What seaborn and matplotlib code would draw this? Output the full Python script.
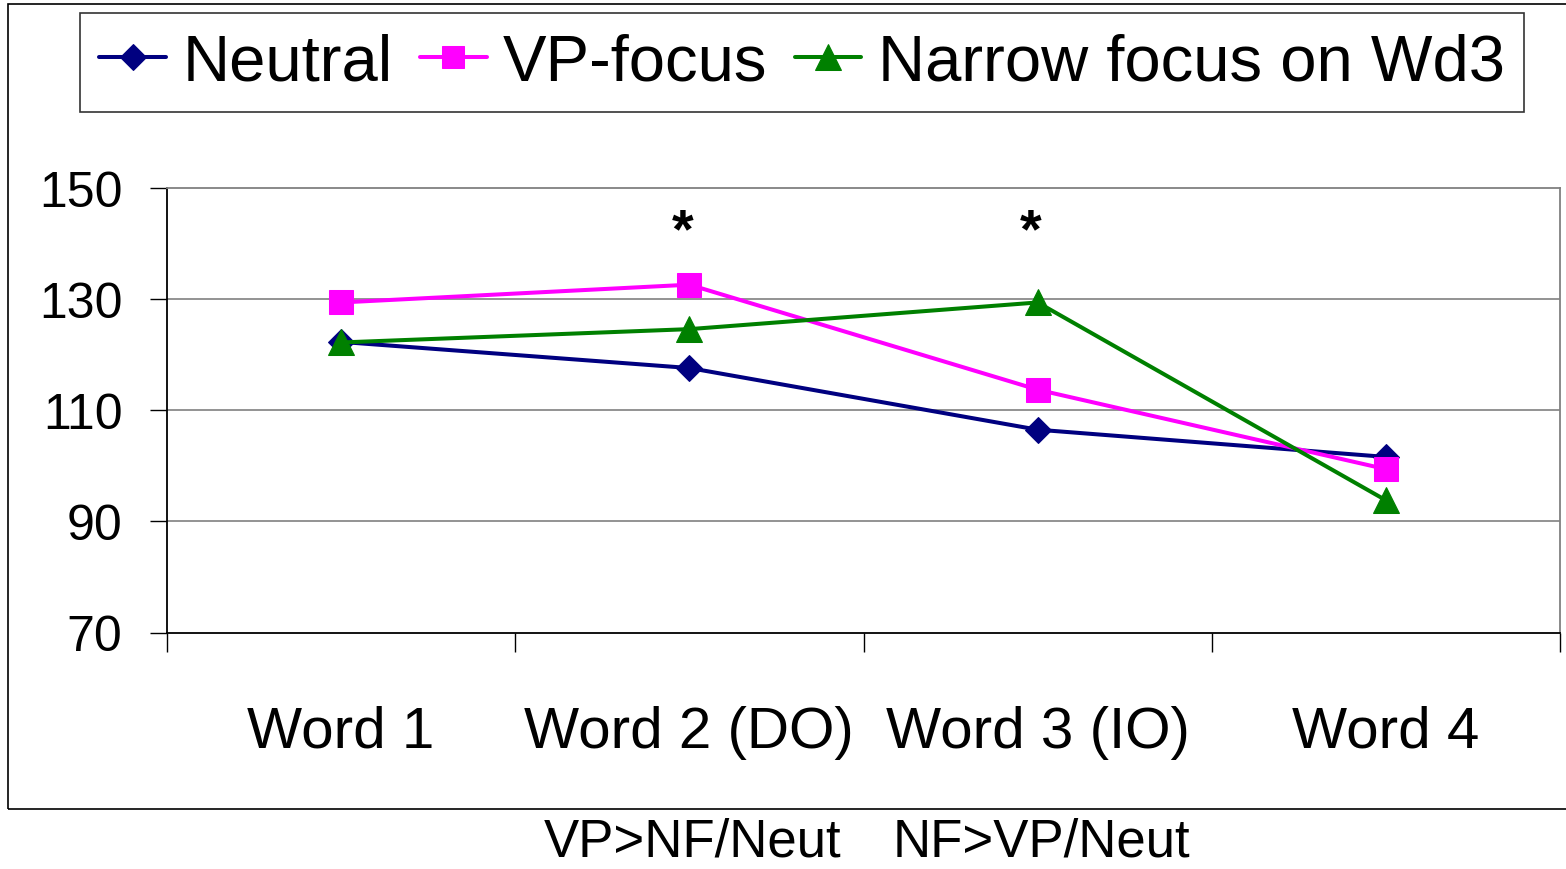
import numpy as np
import pandas as pd
import matplotlib
matplotlib.use("Agg")
import matplotlib.pyplot as plt
import matplotlib.patches as mpatches
from matplotlib.transforms import blended_transform_factory
import seaborn as sns

# Data
categories = ["Word 1", "Word 2 (DO)", "Word 3 (IO)", "Word 4"]
series_names = ["Neutral", "VP-focus", "Narrow focus on Wd3"]
neutral = [122.3, 117.6, 106.5, 101.6]
vp_focus = [129.4, 132.6, 113.7, 99.4]
narrow_focus = [122.2, 124.6, 129.4, 93.8]
y_ticks = [70, 90, 110, 130, 150]
star_positions = [1, 2]          # categories marked as significant
star_height = 142
contrast_labels = ["VP>NF/Neut", "NF>VP/Neut"]
contrast_positions = [1, 2]

sns.set_theme(style="white")
plt.rcParams["font.family"] = ["Liberation Sans", "DejaVu Sans"]
plt.rcParams["text.color"] = "black"
plt.rcParams["xtick.color"] = "black"
plt.rcParams["ytick.color"] = "black"
plt.rcParams["legend.labelcolor"] = "black"

frames = []
for name, vals in zip(series_names, [neutral, vp_focus, narrow_focus]):
    frames.append(pd.DataFrame({"pos": np.arange(len(categories)),
                                "value": vals, "series": name}))
df = pd.concat(frames, ignore_index=True)

colors = {"Neutral": "#000080", "VP-focus": "#FF00FF",
          "Narrow focus on Wd3": "#008000"}
markers = {"Neutral": "D", "VP-focus": "s", "Narrow focus on Wd3": "^"}
msizes = {"Neutral": 13.5, "VP-focus": 17, "Narrow focus on Wd3": 19}

fig = plt.figure(figsize=(15.66, 8.70), dpi=100)
ax = fig.add_axes([167 / 1566, 1 - 633.5 / 870, (1560 - 167) / 1566, (633.5 - 189) / 870])

for name in series_names:
    sub = df[df["series"] == name]
    sns.lineplot(data=sub, x="pos", y="value", ax=ax, color=colors[name],
                 marker=markers[name], markersize=msizes[name],
                 markeredgecolor=colors[name], linewidth=2.9, label=name,
                 errorbar=None, zorder=3)

ax.set_xlim(-0.5, len(categories) - 0.5)
ax.set_ylim(70, 150)
ax.set_yticks(y_ticks)
ax.set_yticklabels([str(t) for t in y_ticks], fontsize=36, color="black")
ax.set_xticks(np.arange(len(categories)))
ax.set_xticklabels(categories, fontsize=42, color="black")
ax.set_xticks(np.arange(len(categories) + 1) - 0.5, minor=True)
ax.tick_params(axis="x", which="major", length=0, pad=52)
ax.tick_params(axis="x", which="minor", length=14, width=1.0, color="black",
               direction="out", bottom=True)
ax.tick_params(axis="y", which="major", length=12, width=1.0, color="black",
               direction="out", left=True, pad=20)
ax.set_xlabel("")
ax.set_ylabel("")

for yv in y_ticks[1:-1]:
    ax.axhline(yv, color="#808080", linewidth=1.2, zorder=1)

for side in ["left", "bottom"]:
    ax.spines[side].set_color("black")
    ax.spines[side].set_linewidth(1.3)
for side in ["top", "right"]:
    ax.spines[side].set_color("#808080")
    ax.spines[side].set_linewidth(1.3)

for p in star_positions:
    ax.text(p - 0.02, star_height, "*", ha="center", va="center",
            fontsize=40, fontweight="bold", color="black")

trans = blended_transform_factory(ax.transData, fig.transFigure)
for p, lab in zip(contrast_positions, contrast_labels):
    ax.text(p + 0.01, 27 / 870, lab, transform=trans, ha="center", va="center",
            fontsize=38, color="black", clip_on=False)

# Outer chart frame
fig.patches.append(mpatches.Rectangle((8 / 1566, 60 / 870), 1.05, 1 - 60 / 870 - 5 / 870,
                                      transform=fig.transFigure, fill=False,
                                      edgecolor="black", linewidth=1.2))

leg = ax.legend(loc="center", bbox_to_anchor=(802 / 1566, 1 - 63.5 / 870),
                bbox_transform=fig.transFigure, ncol=3, fontsize=47,
                frameon=True, fancybox=False, handlelength=1.02,
                handletextpad=0.25, columnspacing=0.42, borderpad=0.3,
                borderaxespad=0)
leg.get_frame().set_edgecolor("black")
leg.get_frame().set_linewidth(1.2)
for t in leg.get_texts():
    t.set_color("black")
for h in leg.legend_handles:
    h.set_markersize(h.get_markersize() * 0.95)

fig.savefig("out.png", dpi=100)
